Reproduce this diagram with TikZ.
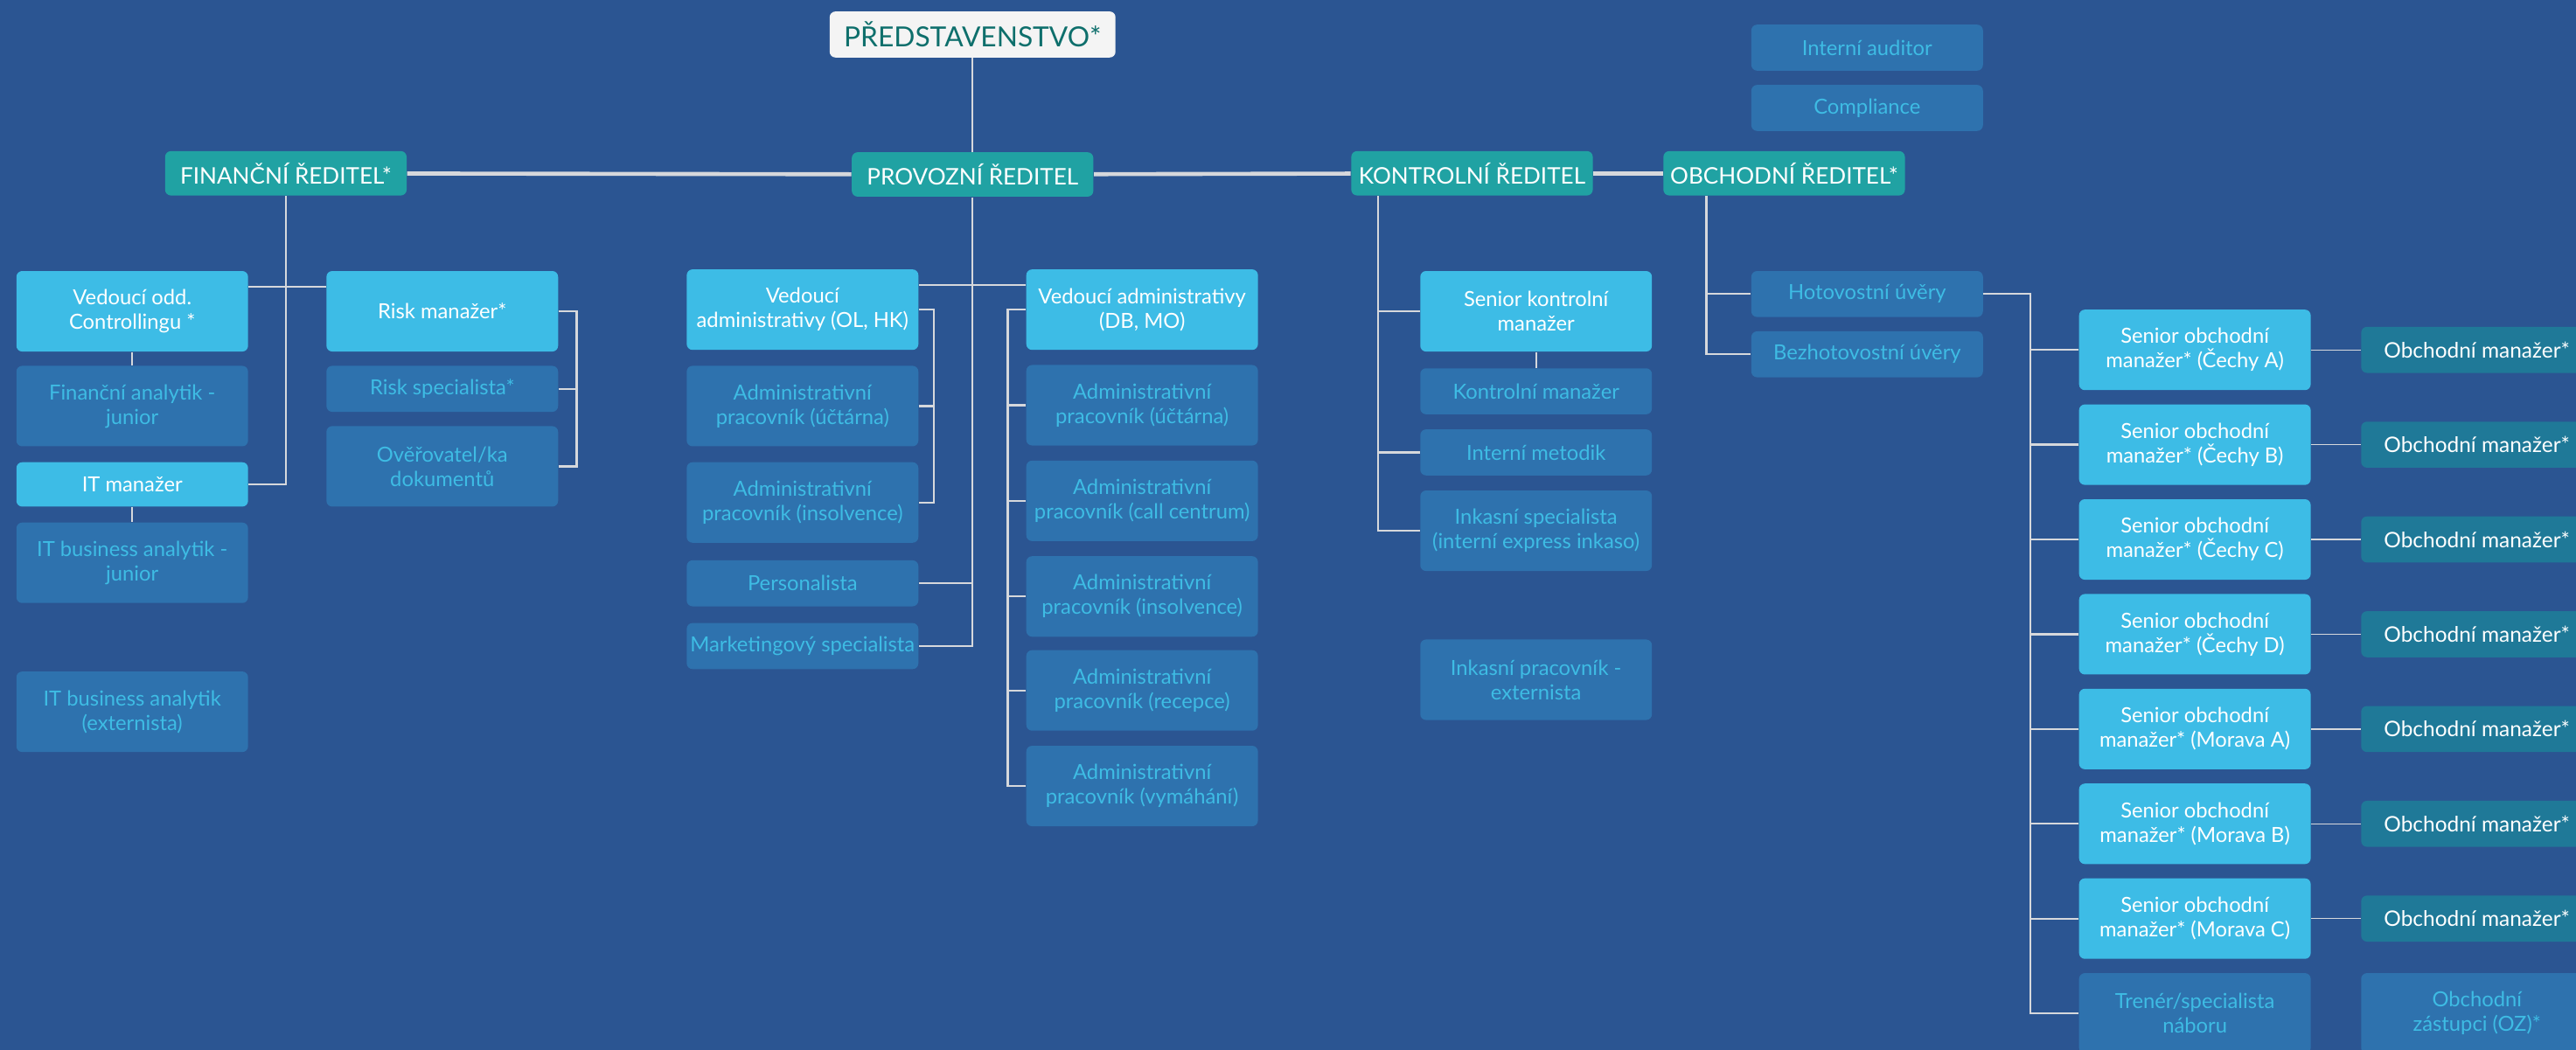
\documentclass[tikz,border=0pt]{standalone}
\usepackage{fontspec}
\setmainfont{Lato}
\usepackage{xcolor}
\usepackage{tikz}
\usetikzlibrary{positioning}

\definecolor{bgblue}{HTML}{2B5592}
\definecolor{dirteal}{HTML}{20A2A3}
\definecolor{leadcyan}{HTML}{3DBCE6}
\definecolor{staffblue}{HTML}{2E72AE}
\definecolor{stafftext}{HTML}{3EBCE4}
\definecolor{omteal}{HTML}{1F7998}
\definecolor{boardtext}{HTML}{0E6F6C}
\definecolor{boardfill}{HTML}{F4F4F4}
\definecolor{linegray}{HTML}{D6D8DC}

\begin{document}
\begin{tikzpicture}[
    node distance=0.16cm and 0.6cm,
    board/.style={rectangle, fill=boardfill, rounded corners=2pt, minimum width=3.48cm, minimum height=0.56cm, text=boardtext, font=\fontsize{9.6}{11}\selectfont},
    dir/.style={rectangle, fill=dirteal, rounded corners=2pt, minimum width=2.94cm, minimum height=0.54cm, inner xsep=1pt, text=white, font=\fontsize{7.9}{9}\selectfont},
    lead/.style={rectangle, fill=leadcyan, rounded corners=2pt, minimum width=2.82cm, minimum height=0.98cm, inner xsep=1pt, text=white, font=\fontsize{7.2}{8.5}\selectfont, align=center},
    staff/.style={rectangle, fill=staffblue, rounded corners=2pt, minimum width=2.82cm, minimum height=0.56cm, inner xsep=1pt, text=stafftext, font=\fontsize{7.2}{8.5}\selectfont, align=center},
    stafftall/.style={staff, minimum height=0.98cm},
    om/.style={rectangle, fill=omteal, rounded corners=2pt, minimum width=2.82cm, minimum height=0.56cm, text=white, font=\fontsize{7.4}{8.5}\selectfont},
    line/.style={draw=linegray, line width=0.7pt},
    mainline/.style={draw=linegray, line width=1.4pt},
    thinline/.style={draw=linegray, line width=0.4pt}
]

% Page and background
\useasboundingbox (0,0) rectangle (31.36,-12.78);
\clip (0,0) rectangle (31.36,-12.78);
\fill[bgblue] (0,0) rectangle (31.36,-12.78);

% Board and directors
\node[board] (board) at (11.84,-0.42) {PŘEDSTAVENSTVO*};
\node[dir] (fin) at (3.48,-2.11) {FINANČNÍ ŘEDITEL*};
\node[dir, below=1.14cm of board] (prov) {PROVOZNÍ ŘEDITEL};
\node[dir] (kontr) at (17.92,-2.11) {KONTROLNÍ ŘEDITEL};
\node[dir] (obch) at (21.72,-2.11) {OBCHODNÍ ŘEDITEL*};

% Audit
\node[staff] (audit) at (22.73,-0.58) {Interní auditor};
\node[staff, below=0.16cm of audit] (compl) {Compliance};

% Finance
\node[lead] (vedctrl) at (1.61,-3.79) {Vedoucí odd.\\Controllingu *};
\node[stafftall, below=0.16cm of vedctrl] (finan) {Finanční analytik -\\junior};
\node[lead, minimum height=0.54cm, below=0.18cm of finan] (itman) {IT manažer};
\node[stafftall, below=0.18cm of itman] (itjun) {IT business analytik -\\junior};
\node[stafftall, below=0.82cm of itjun] (itext) {IT business analytik\\(externista)};
\node[lead, right=0.94cm of vedctrl] (riskman) {Risk manažer*};
\node[staff, below=0.16cm of riskman] (riskspec) {Risk specialista*};
\node[stafftall, below=0.16cm of riskspec] (overov) {Ověřovatel/ka\\dokumentů};

% Operations
\node[lead] (vedolhk) at (9.77,-3.77) {Vedoucí\\administrativy (OL, HK)};
\node[stafftall, below=0.18cm of vedolhk] (ucet1) {Administrativní\\pracovník (účtárna)};
\node[stafftall, below=0.18cm of ucet1] (insol1) {Administrativní\\pracovník (insolvence)};
\node[staff, below=0.2cm of insol1] (pers) {Personalista};
\node[staff, below=0.19cm of pers] (market) {Marketingový specialista};
\node[lead, right=1.3cm of vedolhk] (veddbmo) {Vedoucí administrativy\\(DB, MO)};
\node[stafftall, below=0.17cm of veddbmo] (ucet2) {Administrativní\\pracovník (účtárna)};
\node[stafftall, below=0.17cm of ucet2] (call) {Administrativní\\pracovník (call centrum)};
\node[stafftall, below=0.17cm of call] (insol2) {Administrativní\\pracovník (insolvence)};
\node[stafftall, below=0.15cm of insol2] (recep) {Administrativní\\pracovník (recepce)};
\node[stafftall, below=0.17cm of recep] (vymah) {Administrativní\\pracovník (vymáhání)};

% Control
\node[lead] (senkon) at (18.7,-3.79) {Senior kontrolní\\manažer};
\node[staff, below=0.19cm of senkon] (konman) {Kontrolní manažer};
\node[staff, below=0.17cm of konman] (metod) {Interní metodik};
\node[stafftall, below=0.17cm of metod] (inkspec) {Inkasní specialista\\(interní express inkaso)};
\node[stafftall, below=0.82cm of inkspec] (inkext) {Inkasní pracovník -\\externista};

% Sales
\node[staff] (hotov) at (22.73,-3.58) {Hotovostní úvěry};
\node[staff, below=0.16cm of hotov] (bezhot) {Bezhotovostní úvěry};
\node[lead] (senA) at (26.72,-4.26) {Senior obchodní\\manažer* (Čechy A)};
\node[lead, below=of senA] (senB) {Senior obchodní\\manažer* (Čechy B)};
\node[lead, below=of senB] (senC) {Senior obchodní\\manažer* (Čechy C)};
\node[lead, below=of senC] (senD) {Senior obchodní\\manažer* (Čechy D)};
\node[lead, below=of senD] (senMA) {Senior obchodní\\manažer* (Morava A)};
\node[lead, below=of senMA] (senMB) {Senior obchodní\\manažer* (Morava B)};
\node[lead, below=of senMB] (senMC) {Senior obchodní\\manažer* (Morava C)};
\node[stafftall, below=of senMC] (trener) {Trenér/specialista\\náboru};
\node[om, right=of senA] (omA) {Obchodní manažer*};
\node[om, right=of senB] (omB) {Obchodní manažer*};
\node[om, right=of senC] (omC) {Obchodní manažer*};
\node[om, right=of senD] (omD) {Obchodní manažer*};
\node[om, right=of senMA] (omMA) {Obchodní manažer*};
\node[om, right=of senMB] (omMB) {Obchodní manažer*};
\node[om, right=of senMC] (omMC) {Obchodní manažer*};
\node[stafftall, right=of trener] (oz) {Obchodní\\zástupci (OZ)*};

% Top lines
\draw[line] (board) -- (prov);
\draw[mainline] (fin) -- (prov);
\draw[mainline] (prov) -- (kontr);
\draw[mainline] (kontr) -- (obch);

% Finance lines
\draw[line] (fin) |- (itman);
\draw[line] ([yshift=-0.2cm]vedctrl.north east) -- ([yshift=-0.2cm]riskman.north west);
\draw[line] (vedctrl) -- (finan);
\draw[line] (itman) -- (itjun);
\draw[line] (riskman.east) -- ++(0.22,0) |- (overov.east);
\draw[line] (riskspec.east) -- ++(0.22,0);

% Operations lines
\draw[line] (prov) |- (market);
\draw[line] (pers.east) -- (pers.east -| prov.south);
\draw[line] ([yshift=-0.2cm]vedolhk.north east) -- ([yshift=-0.2cm]veddbmo.north west);
\draw[line] (vedolhk.east) -- ++(0.18,0) |- (insol1.east);
\draw[line] (ucet1.east) -- ++(0.18,0);
\draw[line] (veddbmo.west) -- ++(-0.22,0) |- (vymah.west);
\draw[line] (ucet2.west) -- ++(-0.22,0);
\draw[line] (call.west) -- ++(-0.22,0);
\draw[line] (insol2.west) -- ++(-0.22,0);
\draw[line] (recep.west) -- ++(-0.22,0);

% Control lines
\coordinate (kx) at ([xshift=0.33cm]kontr.south west);
\draw[line] (kx) |- (inkspec.west);
\draw[line] (senkon.west) -- (senkon.west -| kx);
\draw[line] (metod.west) -- (metod.west -| kx);
\draw[line] (senkon) -- (konman);

% Sales lines
\coordinate (ox) at ([xshift=0.53cm]obch.south west);
\draw[line] (ox) |- (bezhot.west);
\draw[line] (hotov.west) -- (hotov.west -| ox);
\draw[line] (hotov.east) -- ++(0.57,0) coordinate (sx) |- (trener.west);
\draw[line] (senA.west) -- (senA.west -| sx);
\draw[line] (senB.west) -- (senB.west -| sx);
\draw[line] (senC.west) -- (senC.west -| sx);
\draw[line] (senD.west) -- (senD.west -| sx);
\draw[line] (senMA.west) -- (senMA.west -| sx);
\draw[line] (senMB.west) -- (senMB.west -| sx);
\draw[line] (senMC.west) -- (senMC.west -| sx);
\draw[thinline] (senA) -- (omA);
\draw[thinline] (senB) -- (omB);
\draw[thinline] (senC) -- (omC);
\draw[thinline] (senD) -- (omD);
\draw[thinline] (senMA) -- (omMA);
\draw[thinline] (senMB) -- (omMB);
\draw[thinline] (senMC) -- (omMC);

\end{tikzpicture}
\end{document}
